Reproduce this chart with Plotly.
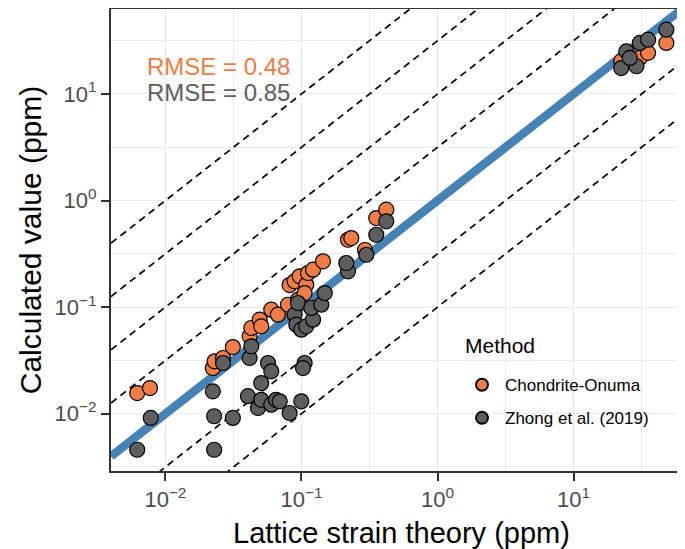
import numpy as np
import plotly.graph_objects as go

# ---- data (ppm) ----
onuma_x = [0.0062, 0.0077, 0.0223, 0.0230, 0.0265, 0.0313, 0.0416, 0.0428, 0.0493, 0.0506,
           0.0600, 0.0671, 0.0796, 0.0818, 0.0942, 0.0891, 0.0970, 0.1084, 0.1117, 0.1216,
           0.1439, 0.1054, 0.2198, 0.2323, 0.293, 0.3548, 0.4201, 22.4, 30.7, 35.3, 48.1]
onuma_y = [0.0156, 0.0174, 0.0268, 0.0310, 0.0333, 0.0422, 0.0532, 0.0637, 0.0762, 0.0661,
           0.0946, 0.0849, 0.1053, 0.161, 0.1172, 0.1746, 0.1945, 0.162, 0.209, 0.2244,
           0.269, 0.1355, 0.4285, 0.4446, 0.3436, 0.6855, 0.8204, 20.3, 21.8, 24.3, 30.1]

zhong_x = [0.0062, 0.0078, 0.0228, 0.0228, 0.0223, 0.0313, 0.0265, 0.0416, 0.0428, 0.0404,
           0.0479, 0.0506, 0.0506, 0.0568, 0.0600, 0.0600, 0.0650, 0.0692, 0.0818, 0.0997,
           0.1055, 0.1026, 0.0891, 0.0942, 0.0916, 0.0997, 0.1084, 0.1216, 0.1180, 0.1398,
           0.1483, 0.2198, 0.2135, 0.2996, 0.3548, 0.4201, 22.4, 24.4, 29.0, 30.7, 35.3, 48.1, 25.9]
zhong_y = [0.00459, 0.00912, 0.00459, 0.00946, 0.0162, 0.00912, 0.0299, 0.0333, 0.0429, 0.0146,
           0.01131, 0.0194, 0.0135, 0.0299, 0.0250, 0.01215, 0.0135, 0.01306, 0.01015, 0.01306,
           0.0299, 0.0268, 0.0849, 0.1093, 0.0684, 0.0614, 0.0661, 0.0762, 0.0982, 0.1053,
           0.1355, 0.2168, 0.2594, 0.310, 0.4775, 0.6383, 17.5, 25.1, 18.2, 30.1, 32.3, 40.1, 21.8]

x_limits = [0.00398, 73.0]
y_limits = [0.0029, 62.7]
guide_offsets = [-1, -0.5, 0.5, 1, 1.5, 2]   # log10 ratio of dashed guides to y = x
rmse_labels = ["RMSE = 0.48", "RMSE = 0.85"]
legend_title = "Method"
x_title = "Lattice strain theory (ppm)"
y_title = "Calculated value (ppm)"

ORANGE = "#EF7D45"
GRAY = "#5E5E5E"
FONT = "Liberation Sans, Arial, sans-serif"

fig = go.Figure()

for k in guide_offsets:
    fig.add_trace(go.Scatter(
        x=x_limits, y=[v * 10 ** k for v in x_limits], mode="lines",
        line=dict(color="black", width=1.7, dash="7px,5px"),
        showlegend=False, hoverinfo="skip"))

fig.add_trace(go.Scatter(
    x=x_limits, y=x_limits, mode="lines",
    line=dict(color="#4682B4", width=8.5), showlegend=False, hoverinfo="skip"))

fig.add_trace(go.Scatter(
    x=onuma_x, y=onuma_y, mode="markers", name="Chondrite-Onuma", legendgroup="a",
    marker=dict(size=15, color=ORANGE, line=dict(color="black", width=1.2))))
fig.add_trace(go.Scatter(
    x=zhong_x, y=zhong_y, mode="markers", name="Zhong et al. (2019)", legendgroup="b",
    marker=dict(size=15, color=GRAY, line=dict(color="black", width=1.2))))

major = [10.0 ** k for k in range(-2, 2)]
major_text = ["10<sup>−2</sup>", "10<sup>−1</sup>", "10<sup>0</sup>", "10<sup>1</sup>"]
minor = [10.0 ** (k + 0.5) for k in range(-3, 2)]

axis_common = dict(
    type="log", showline=True, linecolor="#333333", linewidth=2, mirror=True,
    ticks="outside", ticklen=8, tickwidth=2.2, tickcolor="#333333",
    tickvals=major, ticktext=major_text, automargin=False,
    tickfont=dict(family=FONT, size=22, color="#4D4D4D"),
    showgrid=True, gridcolor="#EBEBEB", gridwidth=1.4, zeroline=False,
    minor=dict(tickvals=minor, showgrid=True, gridcolor="#EBEBEB", gridwidth=0.8, ticks=""),
)

fig.update_xaxes(**axis_common, range=[np.log10(x_limits[0]), np.log10(x_limits[1])])
fig.update_yaxes(**axis_common, range=[np.log10(y_limits[0]), np.log10(y_limits[1])],
                 title=dict(text=y_title,
                            font=dict(family=FONT, size=30, color="black"), standoff=4))

fig.add_annotation(x=0.5, y=-0.174, xref="paper", yref="paper", text=x_title,
                   showarrow=False, xanchor="center", yanchor="bottom",
                   font=dict(family=FONT, size=29, color="black"))
fig.add_annotation(x=-2.15, y=1.255, xref="x", yref="y", text=rmse_labels[0], showarrow=False,
                   xanchor="left", yanchor="middle", font=dict(family=FONT, size=24, color=ORANGE))
fig.add_annotation(x=-2.15, y=1.01, xref="x", yref="y", text=rmse_labels[1], showarrow=False,
                   xanchor="left", yanchor="middle", font=dict(family=FONT, size=24, color=GRAY))
fig.add_annotation(x=0.607, y=0.2706, xref="paper", yref="paper", text=legend_title,
                   showarrow=False, xanchor="left", yanchor="middle",
                   font=dict(family=FONT, size=21, color="black"))

fig.update_layout(
    width=685, height=549,
    margin=dict(l=103, r=2, t=1, b=86),
    plot_bgcolor="white", paper_bgcolor="white",
    font=dict(family=FONT),
    legend=dict(
        font=dict(family=FONT, size=17, color="black"),
        x=0.60, y=0.150, xanchor="left", yanchor="middle",
        bgcolor="rgba(0,0,0,0)", traceorder="grouped", tracegroupgap=8,
        itemsizing="constant", itemwidth=36,
    ),
)

fig.write_html("out.html")
